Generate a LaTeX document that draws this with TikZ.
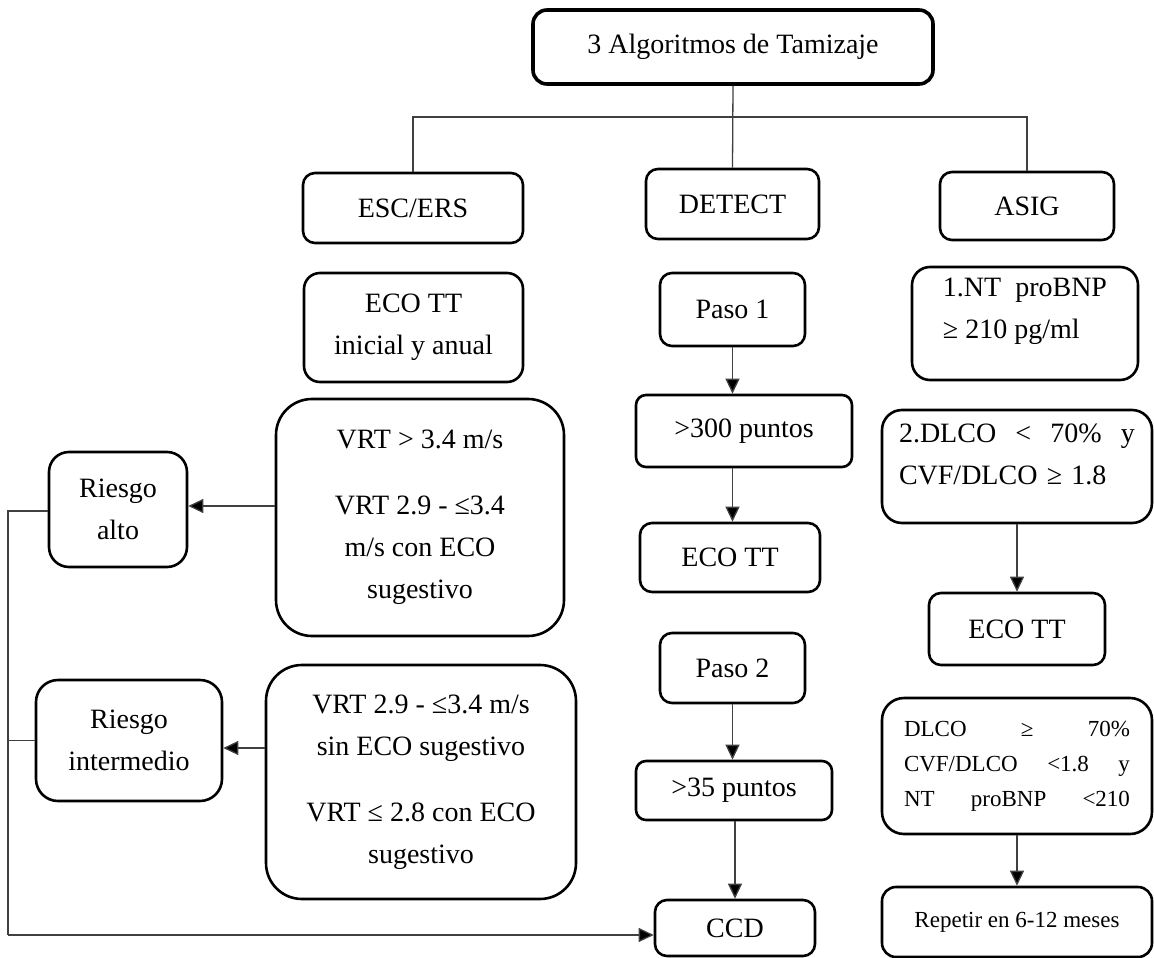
\documentclass[tikz,border=0pt]{standalone}
\usepackage{fontspec}
\setmainfont{Liberation Serif}
\usetikzlibrary{arrows.meta}

\begin{document}
\begin{tikzpicture}[x=1pt,y=-1pt,
  box/.style={draw=black, line width=2.6pt, rounded corners=12pt, inner sep=0pt,
    align=center, font=\fontsize{28}{42}\selectfont},
  smallbox/.style={box, font=\fontsize{23}{35}\selectfont},
  wire/.style={draw=black!75, line width=1.3pt},
  arr/.style={wire, -{Triangle[length=15pt,width=14pt,fill=black]}},
]
\useasboundingbox (0,0) rectangle (1154,958);

% title and the three algorithms
\node[box, line width=3.6pt, rounded corners=14pt, minimum width=400pt, minimum height=74pt] (top) at (733,47) {3 Algoritmos de Tamizaje};
\node[box, minimum width=220pt, minimum height=70pt] (esc) at (413,208) {ESC/ERS};
\node[box, minimum width=173pt, minimum height=70pt] (det) at (732.5,204) {DETECT};
\node[box, minimum width=174pt, minimum height=68pt] (asig) at (1027,206) {ASIG};

% ESC/ERS column
\node[box, rounded corners=16pt, minimum width=219pt, minimum height=109pt] (ecoI) at (413.5,327.5) {ECO TT\\inicial y anual};
\node[box, rounded corners=36pt, minimum width=288pt, minimum height=237pt] (vrt1) at (420,517.5)
  {VRT > 3.4 m/s\\[24pt]VRT 2.9 - ≤3.4\\m/s con ECO\\sugestivo};
\node[box, rounded corners=36pt, minimum width=310pt, minimum height=234pt] (vrt2) at (421,782)
  {VRT 2.9 - ≤3.4 m/s\\sin ECO sugestivo\\[24pt]VRT ≤ 2.8 con ECO\\sugestivo};
\node[box, rounded corners=20pt, minimum width=138pt, minimum height=115pt] (ra) at (118,509.5) {Riesgo\\alto};
\node[box, rounded corners=22pt, minimum width=186pt, minimum height=121pt] (ri) at (129,740.5) {Riesgo\\intermedio};

% DETECT column
\node[box, minimum width=145pt, minimum height=73pt] (paso1) at (732.5,309.5) {Paso 1};
\node[box, rounded corners=10pt, minimum width=216pt, minimum height=72pt] (p300) at (744,431) {>300 puntos};
\node[box, minimum width=180pt, minimum height=69pt] (ecoD) at (730,557.5) {ECO TT};
\node[box, minimum width=145pt, minimum height=70pt] (paso2) at (732.5,668) {Paso 2};
\node[box, rounded corners=10pt, minimum width=196pt, minimum height=59pt] (p35) at (734,790.5) {>35 puntos};
\node[box, minimum width=160pt, minimum height=56pt] (ccd) at (735,928) {CCD};

% ASIG column (an empty last line lifts the text towards the top of the box)
\node[box, rounded corners=18pt, minimum width=226pt, minimum height=113pt, align=left] (nt) at (1025,323.5)
  {1.NT~~proBNP\\≥ 210 pg/ml\\[-12pt]\mbox{}};
\node[box, rounded corners=20pt, minimum width=270pt, minimum height=113pt, text width=236pt, align=left] (dl) at (1017,466.5)
  {2.DLCO \hfill < \hfill 70\% \hfill y\\CVF/DLCO ≥ 1.8\\[-18pt]\mbox{}};
\node[box, minimum width=176pt, minimum height=72pt] (ecoA) at (1017,629) {ECO TT};
\node[smallbox, rounded corners=22pt, minimum width=270pt, minimum height=136pt, text width=226pt, align=left] (dg) at (1017,766)
  {DLCO \hfill ≥ \hfill 70\%\\CVF/DLCO \hfill <1.8 \hfill y\\NT \hfill proBNP \hfill <210};
\node[smallbox, rounded corners=14pt, minimum width=270pt, minimum height=70pt] (rep) at (1017,922) {Repetir en 6-12 meses};

% branching from the title
\coordinate (bus) at (733,117);
\draw[wire] (top.south) -- (det.north);
\draw[wire] (esc.north) |- (bus) -| (asig.north);

% DETECT arrows
\draw[arr] (paso1.south) -- (paso1.south |- p300.north);
\draw[arr] (paso1.south |- p300.south) -- (paso1.south |- ecoD.north);
\draw[arr] (paso2.south) -- (paso2.south |- p35.north);
\draw[arr] (ccd.north |- p35.south) -- (ccd.north);

% ASIG arrows
\draw[arr] (ecoA.north |- dl.south) -- (ecoA.north);
\draw[arr] (dg.south) -- (rep.north);

% risk arrows and the return line to CCD
\draw[arr] ([yshift=11.5pt]vrt1.west) -- ([yshift=11.5pt]vrt1.west -| ra.east);
\draw[arr] ([yshift=34pt]vrt2.west) -- ([yshift=34pt]vrt2.west -| ri.east);
\coordinate (lc) at (8,935);
\draw[wire] ([yshift=-1.5pt]ra.west) -| (lc);
\draw[wire] (ri.west) -- (ri.west -| lc);
\draw[arr] (lc) -- (lc -| ccd.west);
\end{tikzpicture}
\end{document}
